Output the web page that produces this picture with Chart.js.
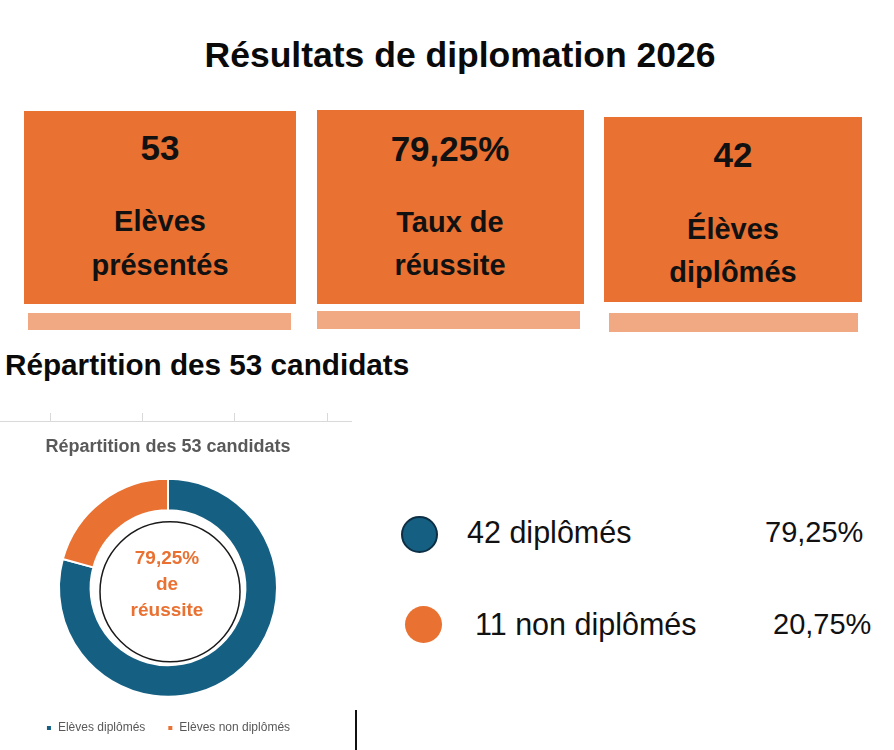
<!DOCTYPE html>
<html>
<head>
<meta charset="utf-8">
<script src="https://cdn.jsdelivr.net/npm/chart.js@4.4.1/dist/chart.umd.min.js"></script>
<style>
  html, body { margin:0; padding:0; background:#fff; width:894px; height:750px; overflow:hidden;
    font-family:"Liberation Sans", Arial, Helvetica, sans-serif; }
  .abs { position:absolute; }
  .t { position:absolute; line-height:1; white-space:nowrap; }
  .c { transform:translateX(-50%); }
  .box { position:absolute; background:#E97132; }
  .bar { position:absolute; background:#F1A983; }
  #chartWrap { position:absolute; left:0; top:425px; width:336px; height:325px; }
</style>
</head>
<body>
<script>
// ---------- data ----------
const pageTitle = 'Résultats de diplomation 2026';
const sectionTitle = 'Répartition des 53 candidats';
const kpiValues = ['53', '79,25%', '42'];
const kpiLabels = [['Elèves', 'présentés'], ['Taux de', 'réussite'], ['Élèves', 'diplômés']];
const categories = ['Elèves diplômés', 'Elèves non diplômés'];
const counts = [42, 11];
const sideLabels = ['42 diplômés', '11 non diplômés'];
const pctLabels = ['79,25%', '20,75%'];
const centerLines = ['79,25%', 'de', 'réussite'];
const seriesColors = ['#156082', '#E97132'];

// ---------- layout helpers (positions only) ----------
function addText(txt, x, top, size, opts) {
  const d = document.createElement('div');
  d.className = 't' + (opts.center ? ' c' : '');
  d.textContent = txt;
  d.style.left = x + 'px';
  d.style.top = top + 'px';
  d.style.fontSize = size + 'px';
  d.style.fontWeight = opts.bold ? 'bold' : 'normal';
  d.style.color = opts.color || '#000';
  document.body.appendChild(d);
}
function addRect(cls, x, y, w, h, extra) {
  const d = document.createElement('div');
  d.className = cls;
  d.style.left = x + 'px'; d.style.top = y + 'px';
  d.style.width = w + 'px'; d.style.height = h + 'px';
  if (extra) Object.assign(d.style, extra);
  document.body.appendChild(d);
  return d;
}

// title
addText(pageTitle, 460, 68 - 0.8465 * 35.5, 35.5, {bold:true, center:true, color:'#0a0a0a'});

// KPI cards
const boxes = [
  {x:24, y:111, w:272, h:193, cx:160, b:[160, 232, 276], bar:[28, 313, 263, 17]},
  {x:317, y:110, w:267, h:194, cx:450, b:[161, 233, 276], bar:[317, 311, 263, 18]},
  {x:604, y:117, w:258, h:185, cx:733, b:[167, 240, 283], bar:[609, 313, 249, 19]}
];
boxes.forEach((bx, i) => {
  addRect('box', bx.x, bx.y, bx.w, bx.h);
  addRect('bar', bx.bar[0], bx.bar[1], bx.bar[2], bx.bar[3]);
  addText(kpiValues[i], bx.cx, bx.b[0] - 0.8465 * 35, 35, {bold:true, center:true, color:'#111'});
  addText(kpiLabels[i][0], bx.cx, bx.b[1] - 0.8465 * 29, 29, {bold:true, center:true, color:'#111'});
  addText(kpiLabels[i][1], bx.cx, bx.b[2] - 0.8465 * 29, 29, {bold:true, center:true, color:'#111'});
});

// section title
addText(sectionTitle, 5, 375 - 0.8465 * 29.7, 29.7, {bold:true, color:'#0a0a0a'});

// decorative rule above the chart card
addRect('abs', 0, 421, 352, 1, {background:'#d9d9d9'});
[50, 142, 234, 327].forEach(x => addRect('abs', x, 413, 1, 8, {background:'#d9d9d9'}));
// vertical black line at bottom
addRect('abs', 355, 710, 2, 40, {background:'#111'});

// right-hand legend
const sideRows = [
  {cx:419, cy:534, tx:467, px:765, base:543, border:'2px solid #0c2f45'},
  {cx:423, cy:624, tx:475, px:773, base:635, border:'none'}
];
sideRows.forEach((r, i) => {
  const rad = 18.5;
  addRect('abs', r.cx - rad, r.cy - rad, rad * 2, rad * 2,
    {background:seriesColors[i], borderRadius:'50%', border:r.border, boxSizing:'border-box'});
  addText(sideLabels[i], r.tx, r.base - 0.8465 * 30.5, 30.5, {color:'#111'});
  addText(pctLabels[i], r.px, r.base - 0.8465 * 29, 29, {color:'#111'});
});

// ---------- doughnut chart ----------
const wrap = document.createElement('div');
wrap.id = 'chartWrap';
const cv = document.createElement('canvas');
wrap.appendChild(cv);
document.body.appendChild(wrap);

const centerPlugin = {
  id: 'centerDecor',
  afterDatasetsDraw(chart) {
    const arc = chart.getDatasetMeta(0).data[0];
    if (!arc) return;
    const ctx = chart.ctx;
    const cx = arc.x, cy = arc.y;
    ctx.save();
    ctx.beginPath();
    ctx.arc(cx + 2, cy + 4, 70, 0, Math.PI * 2);
    ctx.lineWidth = 1.5;
    ctx.strokeStyle = '#1a1a1a';
    ctx.stroke();
    ctx.fillStyle = '#E97132';
    ctx.font = 'bold 19px "Liberation Sans", Arial, sans-serif';
    ctx.textAlign = 'center';
    ctx.textBaseline = 'middle';
    const offs = [-29, -3, 23];
    centerLines.forEach((l, i) => ctx.fillText(l, cx - 1, cy + offs[i]));
    ctx.restore();
  }
};

new Chart(cv, {
  type: 'doughnut',
  data: {
    labels: categories,
    datasets: [{
      data: counts,
      backgroundColor: seriesColors,
      borderColor: '#ffffff',
      borderWidth: 2,
      hoverOffset: 0
    }]
  },
  options: {
    responsive: true,
    maintainAspectRatio: false,
    animation: false,
    radius: 109,
    cutout: 79,
    layout: { padding: { bottom: 6 } },
    plugins: {
      tooltip: { enabled: false },
      title: {
        display: true,
        text: sectionTitle,
        color: '#595959',
        font: { family: '"Liberation Sans", Arial, sans-serif', size: 18, weight: 'bold' },
        padding: { top: 11, bottom: 18 }
      },
      legend: {
        display: true,
        position: 'bottom',
        labels: {
          color: '#595959',
          boxWidth: 6,
          boxHeight: 6,
          padding: 22,
          font: { family: '"Liberation Sans", Arial, sans-serif', size: 12 }
        }
      }
    }
  },
  plugins: [centerPlugin]
});
</script>
</body>
</html>
